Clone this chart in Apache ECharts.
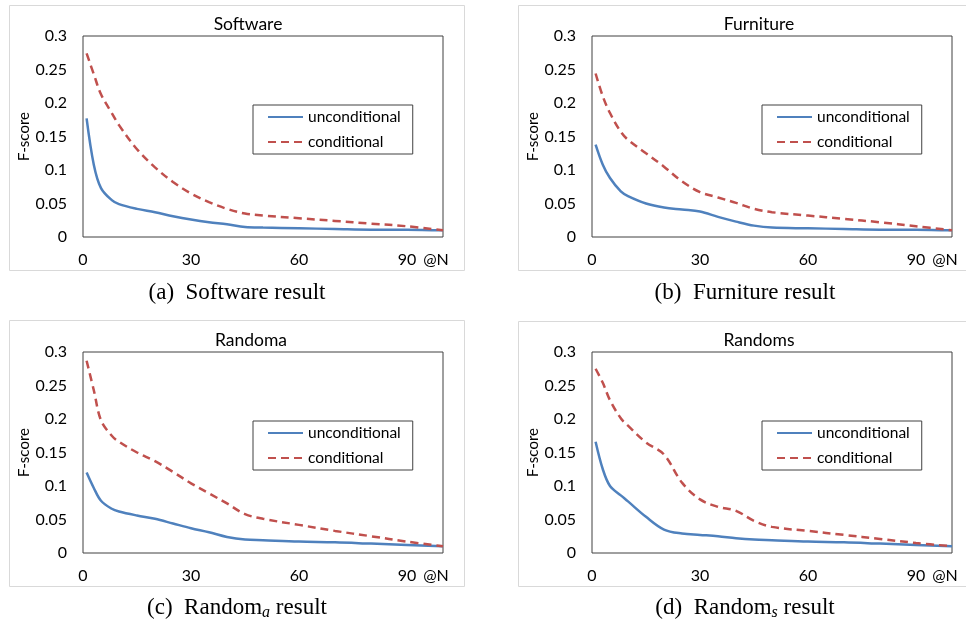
<!DOCTYPE html>
<html><head><meta charset="utf-8">
<script src="https://cdn.jsdelivr.net/npm/echarts@6/dist/echarts.min.js"></script>
<style>html,body{margin:0;padding:0;background:#fff}#c{width:966px;height:623px}</style>
</head><body><div id="c"></div>
<script>
// @N values (shared x positions)
const N = [1, 3, 5, 8, 10, 15, 20, 25, 30, 35, 40, 45, 50, 60, 70, 80, 90, 100];
const xTicks = [0, 30, 60, 90];
const yTicks = [0, 0.05, 0.1, 0.15, 0.2, 0.25, 0.3];
const seriesNames = ['unconditional', 'conditional'];
const panelTitles = ['Software', 'Furniture', 'Randoma', 'Randoms'];

const softwareUncond = [0.177,0.108,0.073,0.055,0.049,0.042,0.037,0.031,0.026,0.022,0.019,0.015,0.014,0.013,0.012,0.011,0.011,0.010];
const softwareCond   = [0.274,0.243,0.213,0.185,0.167,0.131,0.104,0.082,0.065,0.052,0.042,0.035,0.032,0.028,0.024,0.020,0.016,0.010];
const furnitureUncond= [0.138,0.108,0.088,0.068,0.061,0.050,0.044,0.041,0.038,0.030,0.023,0.017,0.014,0.013,0.012,0.011,0.011,0.010];
const furnitureCond  = [0.244,0.210,0.185,0.157,0.145,0.125,0.105,0.083,0.067,0.059,0.051,0.042,0.037,0.032,0.027,0.022,0.016,0.010];
const randomaUncond  = [0.120,0.097,0.078,0.066,0.062,0.056,0.051,0.044,0.037,0.031,0.024,0.020,0.019,0.017,0.016,0.014,0.012,0.010];
const randomaCond    = [0.287,0.243,0.198,0.175,0.166,0.150,0.137,0.121,0.104,0.089,0.074,0.058,0.051,0.042,0.033,0.025,0.017,0.010];
const randomsUncond  = [0.166,0.125,0.100,0.086,0.077,0.054,0.035,0.029,0.027,0.025,0.022,0.020,0.019,0.017,0.016,0.014,0.012,0.010];
const randomsCond    = [0.275,0.254,0.228,0.201,0.190,0.165,0.147,0.105,0.080,0.069,0.063,0.048,0.039,0.033,0.027,0.021,0.015,0.010];

const panelData = [
  [softwareUncond, softwareCond],
  [furnitureUncond, furnitureCond],
  [randomaUncond, randomaCond],
  [randomsUncond, randomsCond]
];
const captions = [
  '{b|(a)\u2002Software result}',
  '{b|(b)\u2002Furniture result}',
  '{b|(c)\u2002Random}{s|a}{b| result}',
  '{b|(d)\u2002Random}{s|s}{b| result}'
];

const FONT = 'Lato';
const BLUE = '#4F81BD', RED = '#C0504D';
const layout = [
  {gx: 83, gy: 36, box: [9, 5, 455, 265], tx: 248, cx: 237, cy: 293},
  {gx: 592, gy: 36, box: [518, 5, 470, 265], tx: 759, cx: 745, cy: 293},
  {gx: 83, gy: 352, box: [9, 320, 455, 266], tx: 251, cx: 237, cy: 608},
  {gx: 592, gy: 352, box: [518, 321, 470, 265], tx: 759, cx: 745, cy: 608}
];

const option = {
  backgroundColor: '#fff',
  animation: false,
  title: [], grid: [], xAxis: [], yAxis: [], series: [], legend: [], graphic: []
};

layout.forEach((L, i) => {
  option.graphic.push({type: 'rect', shape: {x: L.box[0] + 0.5, y: L.box[1] + 0.5, width: L.box[2], height: L.box[3]},
    style: {fill: 'none', stroke: '#d9d9d9', lineWidth: 1}, z: 0});
  option.graphic.push({type: 'text', x: L.cx, y: L.cy, style: {text: captions[i], textAlign: 'center', textVerticalAlign: 'middle',
    rich: {b: {fontFamily: 'Liberation Serif', fontSize: 23, lineHeight: 26, fill: '#000'},
           s: {fontFamily: 'Liberation Serif', fontSize: 16, fontStyle: 'italic', lineHeight: 14, verticalAlign: 'bottom', fill: '#000'}}}});
  option.title.push({text: panelTitles[i], left: L.tx, top: L.gy - 23, textAlign: 'center', padding: 0,
    textStyle: {fontFamily: FONT, fontSize: 17.5, fontWeight: 'normal', color: '#000', lineHeight: 22}});
  option.grid.push({left: L.gx, top: L.gy, width: 360, height: 201, show: true, borderColor: '#404040', borderWidth: 1, backgroundColor: 'transparent'});
  option.xAxis.push({type: 'value', gridIndex: i, min: xTicks[0], max: 100, interval: xTicks[1] - xTicks[0],
    axisLine: {show: false}, axisTick: {show: false}, splitLine: {show: false},
    axisLabel: {margin: 15, fontFamily: FONT, fontSize: 16, color: '#000',
      formatter: v => v === 100 ? '{n|@N}' : (xTicks.indexOf(v) >= 0 ? String(v) : ''),
      rich: {n: {fontFamily: FONT, fontSize: 16, color: '#000', padding: [0, 14, 0, 0]}}}});
  option.yAxis.push({type: 'value', gridIndex: i, min: yTicks[0], max: yTicks[yTicks.length - 1], interval: yTicks[1] - yTicks[0],
    name: 'F-score', nameLocation: 'middle', nameGap: 50, nameRotate: 90,
    nameTextStyle: {fontFamily: FONT, fontSize: 15, color: '#000'},
    axisLine: {show: false}, axisTick: {show: false}, splitLine: {show: false},
    axisLabel: {margin: 16, fontFamily: FONT, fontSize: 16, color: '#000', formatter: v => String(+v.toFixed(2))}});
  panelData[i].forEach((vals, k) => {
    option.series.push({type: 'line', name: seriesNames[k], xAxisIndex: i, yAxisIndex: i,
      data: N.map((x, j) => [x, vals[j]]), showSymbol: false, symbol: 'none', smooth: 0.35,
      lineStyle: {color: k === 0 ? BLUE : RED, width: 2.5, type: k === 0 ? 'solid' : [8, 5]},
      itemStyle: {color: k === 0 ? BLUE : RED}, z: 3});
  });
  option.legend.push({data: seriesNames.slice(), left: L.gx + 170, top: L.gy + 69, orient: 'vertical',
    borderColor: '#404040', borderWidth: 1, backgroundColor: '#fff', padding: [4, 12, 4, 14],
    itemWidth: 35, itemHeight: 14, itemGap: 9, selectedMode: false,
    itemStyle: {opacity: 0},
    textStyle: {fontFamily: FONT, fontSize: 15.5, lineHeight: 16, color: '#000'}});
});

const chart = echarts.init(document.getElementById('c'), null, {renderer: 'canvas'});
chart.setOption(option);
</script></body></html>
